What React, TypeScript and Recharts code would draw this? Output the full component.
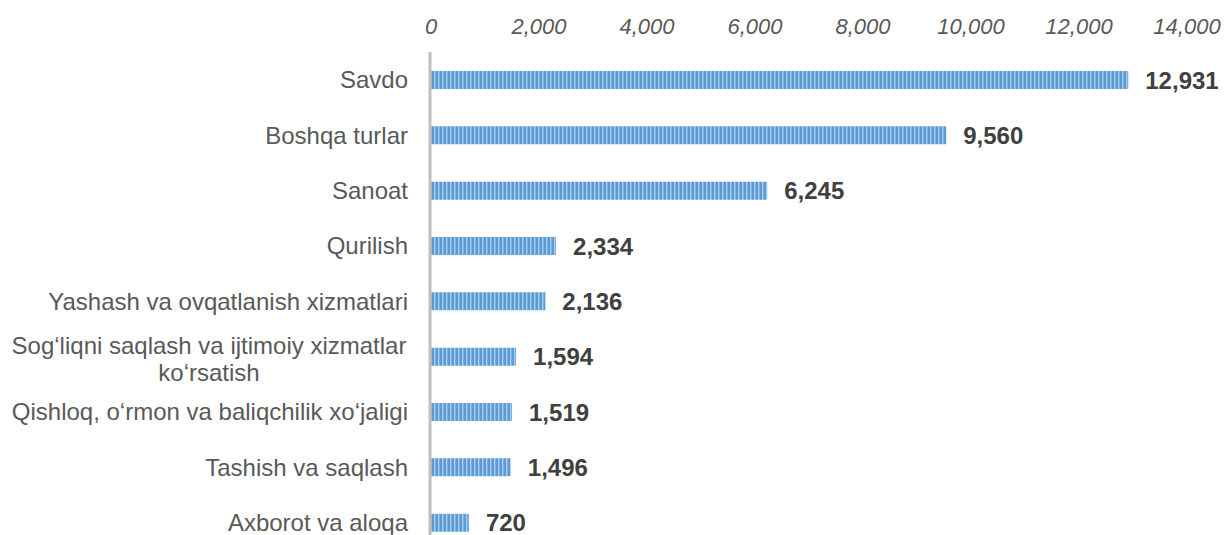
import { BarChart, Bar, XAxis, YAxis, LabelList } from "recharts";

const categories = [
  "Savdo",
  "Boshqa turlar",
  "Sanoat",
  "Qurilish",
  "Yashash va ovqatlanish xizmatlari",
  "Sog‘liqni saqlash va ijtimoiy xizmatlar ko‘rsatish",
  "Qishloq, o‘rmon va baliqchilik xo‘jaligi",
  "Tashish va saqlash",
  "Axborot va aloqa",
];
const values = [12931, 9560, 6245, 2334, 2136, 1594, 1519, 1496, 720];
const xTicks = [0, 2000, 4000, 6000, 8000, 10000, 12000, 14000];

// two-line label in the picture
const wrapped: Record<string, string[]> = {
  "Sog‘liqni saqlash va ijtimoiy xizmatlar ko‘rsatish": ["Sog‘liqni saqlash va ijtimoiy xizmatlar", "ko‘rsatish"],
};

const rows = categories.map((name, i) => ({ name, v: values[i] }));
const fmt = (n: number) => n.toLocaleString("en-US");
const font = "'Liberation Sans', Arial, sans-serif";

function CatTick({ x, y, payload }: any) {
  const lines = wrapped[payload.value];
  const right = x - 14;
  if (!lines) {
    return (
      <text x={right} y={y} textAnchor="end" dominantBaseline="central" fill="#595959" fontSize={24} fontFamily={font}>
        {payload.value}
      </text>
    );
  }
  const lh = 27;
  const y0 = y + 2 - ((lines.length - 1) * lh) / 2;
  const cx = right - 199;
  return (
    <text textAnchor="middle" dominantBaseline="central" fill="#595959" fontSize={24} fontFamily={font}>
      {lines.map((l, i) => (
        <tspan key={i} x={cx} y={y0 + i * lh}>
          {l}
        </tspan>
      ))}
    </text>
  );
}

function ValTick({ x, payload }: any) {
  return (
    <text x={x + 1} y={34} textAnchor="middle" fill="#595959" fontSize={22} fontStyle="italic" fontFamily={font}>
      {fmt(payload.value)}
    </text>
  );
}

export default function App() {
  return (
    <div style={{ position: "absolute", left: 0, top: 0, width: 1225, height: 535, overflow: "hidden", background: "#fff" }}>
      <BarChart width={1225} height={560} data={rows} layout="vertical" margin={{ top: 0, right: 39, bottom: 10, left: 0 }} barCategoryGap={0}>
        <defs>
          <pattern id="stripes" width="4" height="10" patternUnits="userSpaceOnUse">
            <rect x="0" y="0" width="4" height="10" fill="#5b9bd5" />
            <rect x="2" y="0" width="1" height="10" fill="#a9cbec" />
            <rect x="3" y="0" width="1" height="10" fill="#7fb0e0" />
          </pattern>
        </defs>
        <XAxis
          type="number"
          orientation="top"
          domain={[0, 14000]}
          ticks={xTicks}
          height={52}
          axisLine={false}
          tickLine={false}
          tick={<ValTick />}
        />
        <YAxis
          type="category"
          dataKey="name"
          width={430}
          axisLine={{ stroke: "#bfbfbf", strokeWidth: 3 }}
          tickLine={false}
          tick={<CatTick />}
          interval={0}
        />
        <Bar dataKey="v" fill="url(#stripes)" barSize={18} isAnimationActive={false}>
          <LabelList
            dataKey="v"
            position="right"
            offset={17}
            formatter={(v: any) => fmt(Number(v))}
            fill="#404040"
            fontSize={24}
            fontWeight="bold"
            fontFamily={font}
          />
        </Bar>
      </BarChart>
    </div>
  );
}
